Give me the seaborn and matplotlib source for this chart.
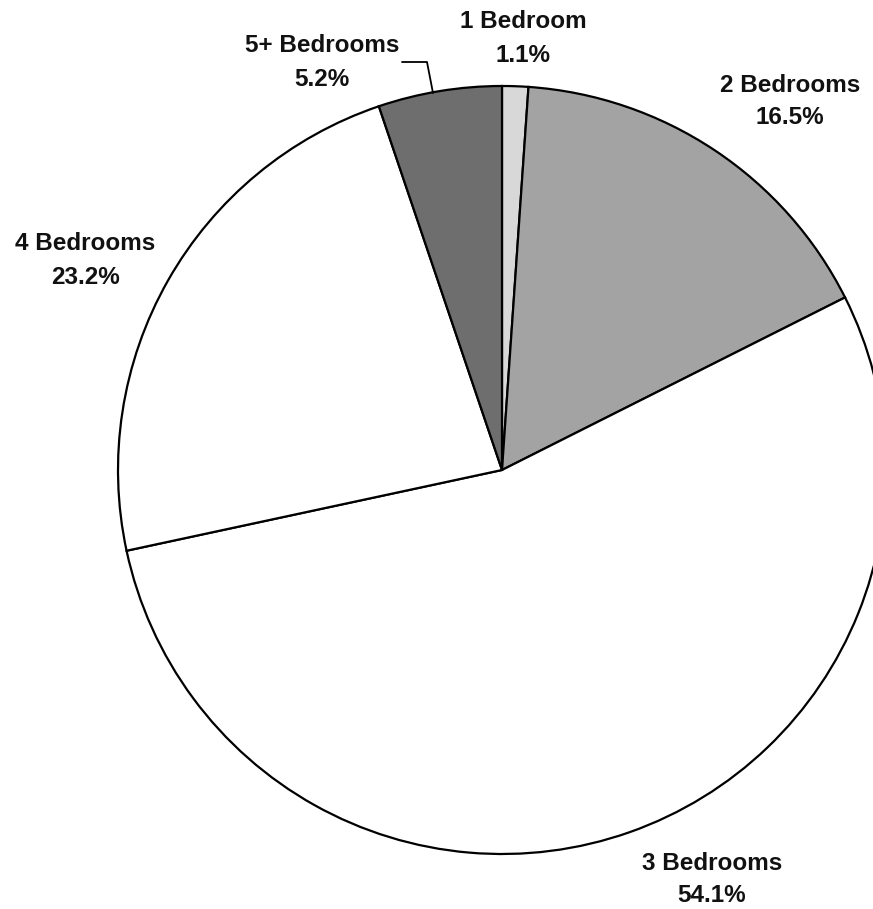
import matplotlib
matplotlib.use("Agg")
import matplotlib.pyplot as plt
import seaborn as sns

# Share of homes by number of bedrooms (%)
categories = ["1 Bedroom", "2 Bedrooms", "3 Bedrooms", "4 Bedrooms", "5+ Bedrooms"]
shares = [1.1, 16.5, 54.1, 23.2, 5.2]
pct_labels = ["1.1%", "16.5%", "54.1%", "23.2%", "5.2%"]
slice_colors = ["#d8d8d8", "#a3a3a3", "#ffffff", "#ffffff", "#6e6e6e"]

sns.set_theme(style="white")
plt.rcParams["font.family"] = ["Liberation Sans", "DejaVu Sans"]

W, H = 873, 909
fig = plt.figure(figsize=(W / 100, H / 100), dpi=100)
ax = fig.add_axes([0, 0, 1, 1])

# pie in pixel-like coordinates so it can be placed like the scan
ax.pie(shares, colors=slice_colors, startangle=90, counterclock=False,
       center=(502, H - 470), radius=384,
       wedgeprops=dict(edgecolor="black", linewidth=1.6))
ax.set_xlim(0, W)
ax.set_ylim(0, H)
ax.set_aspect("equal")
ax.axis("off")

# label positions (pixel x, pixel y of the name line)
label_pos = {
    "1 Bedroom": (523, 22),
    "2 Bedrooms": (790, 85),
    "3 Bedrooms": (712, 863),
    "4 Bedrooms": (85, 244),
    "5+ Bedrooms": (322, 46),
}
for cat, pct in zip(categories, pct_labels):
    x, y = label_pos[cat]
    ax.text(x, H - y, cat, ha="center", va="center", fontsize=17.5,
            fontweight="bold", color="#111111")
    ax.text(x, H - y - 33, pct, ha="center", va="center", fontsize=17.5,
            fontweight="bold", color="#111111")

# leader line for the thin 5+ slice
ax.plot([402, 427, 433], [H - 62, H - 62, H - 93], color="black", lw=1.3)

fig.savefig("out.png", dpi=100, facecolor="white")
